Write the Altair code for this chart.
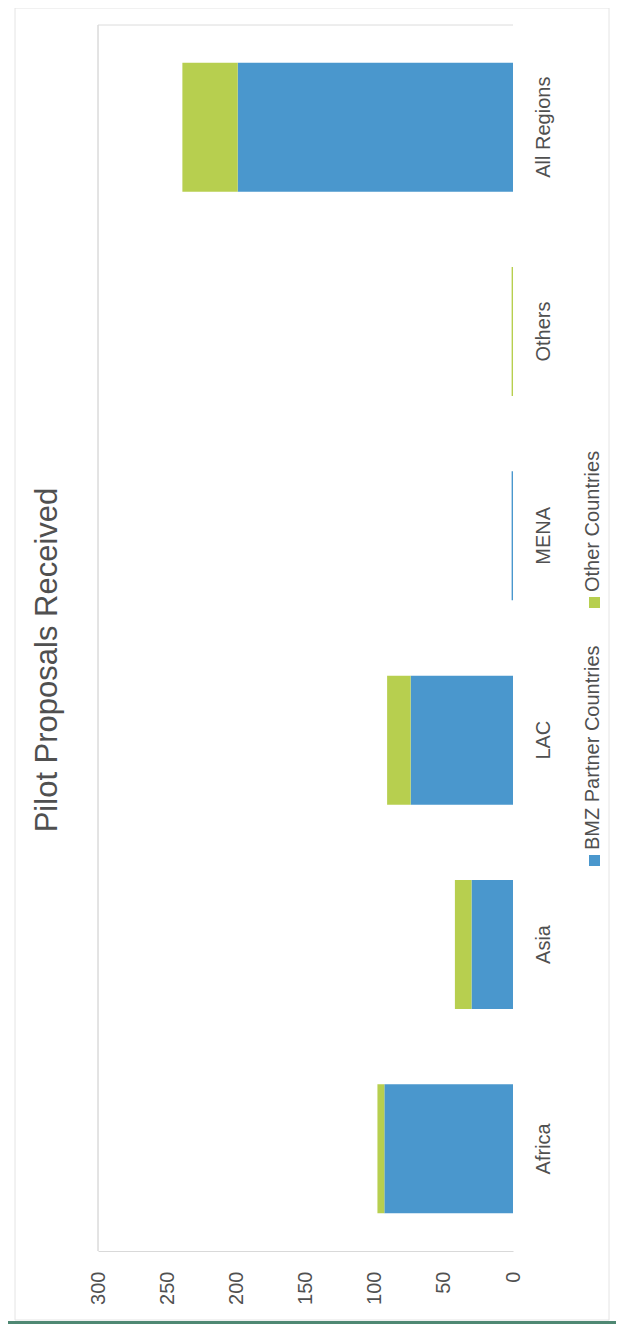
import altair as alt
import pandas as pd

# ---- data ----
regions = ["All Regions", "Others", "MENA", "LAC", "Asia", "Africa"]
bmz_values = [199, 0, 1, 74, 30, 93]
other_values = [40, 1, 0, 17, 12, 5]
series = ["BMZ Partner Countries", "Other Countries"]
series_colors = ["#4a97cd", "#b7cf4f"]
tick_values = [0, 50, 100, 150, 200, 250, 300]
chart_title = "Pilot Proposals Received"

rows = []
for r, b, o in zip(regions, bmz_values, other_values):
    rows.append({"region": r, "series": series[0], "value": b, "rank": 0})
    rows.append({"region": r, "series": series[1], "value": o, "rank": 1})
df = pd.DataFrame(rows)

W, H = 415, 1226
FONT = "Liberation Sans"
TXT = "#505050"

x_scale = alt.Scale(domain=[0, 300], reverse=True, nice=False, zero=True)

bars = alt.Chart(df).mark_bar().encode(
    y=alt.Y(
        "region:N",
        sort=regions,
        scale=alt.Scale(paddingInner=0.369, paddingOuter=0.1845),
        axis=alt.Axis(
            orient="right", title=None, labelAngle=270, labelAlign="center",
            labelBaseline="alphabetic", labelPadding=36, ticks=False, tickSize=0,
            domain=False, grid=False, labelFont=FONT, labelFontSize=20, labelColor=TXT,
        ),
    ),
    x=alt.X(
        "value:Q",
        stack="zero",
        scale=x_scale,
        axis=alt.Axis(
            values=tick_values, orient="bottom", title=None, labelAngle=270,
            labelAlign="right", labelBaseline="middle", labelPadding=20,
            ticks=False, tickSize=0, domain=True, domainColor="#d9d9d9",
            grid=False, labelFont=FONT, labelFontSize=20, labelColor=TXT,
        ),
    ),
    color=alt.Color("series:N", scale=alt.Scale(domain=series, range=series_colors), legend=None),
    order=alt.Order("rank:Q"),
)

one = pd.DataFrame({"k": [0]})

# chart-area frame and scanned page edge
frame = alt.Chart(one).mark_rect(fillOpacity=0, stroke="#e4e4e4", strokeWidth=1).encode(
    x=alt.value(-83), x2=alt.value(511), y=alt.value(-17), y2=alt.value(1295)
)
page_edge = alt.Chart(one).mark_rect(color="#4f8873").encode(
    x=alt.value(-90), x2=alt.value(518), y=alt.value(1296), y2=alt.value(1299)
)
# gridline at 300 (left) and plot top line
grid_left = alt.Chart(one).mark_rule(color="#c8c8c8", strokeWidth=1).encode(
    x=alt.value(0), y=alt.value(0), y2=alt.value(H)
)
top_line = alt.Chart(one).mark_rule(color="#dcdcdc", strokeWidth=1).encode(
    x=alt.value(0), x2=alt.value(W), y=alt.value(0)
)

title_mark = alt.Chart(pd.DataFrame({"t": [chart_title]})).mark_text(
    angle=270, align="center", baseline="alphabetic", fontSize=31, font=FONT, color=TXT
).encode(text="t:N", x=alt.value(-41), y=alt.value(635))

# legend (rotated, built by hand)
leg_sq_bmz = alt.Chart(one).mark_rect(color=series_colors[0]).encode(
    x=alt.value(491), x2=alt.value(502), y=alt.value(830), y2=alt.value(841)
)
leg_sq_oth = alt.Chart(one).mark_rect(color=series_colors[1]).encode(
    x=alt.value(491), x2=alt.value(502), y=alt.value(572), y2=alt.value(583)
)
leg_txt_bmz = alt.Chart(pd.DataFrame({"t": [series[0]]})).mark_text(
    angle=270, align="left", baseline="alphabetic", fontSize=20, font=FONT, color=TXT
).encode(text="t:N", x=alt.value(501), y=alt.value(825))
leg_txt_oth = alt.Chart(pd.DataFrame({"t": [series[1]]})).mark_text(
    angle=270, align="left", baseline="alphabetic", fontSize=20, font=FONT, color=TXT
).encode(text="t:N", x=alt.value(501), y=alt.value(567))

chart = alt.layer(
    frame, page_edge, grid_left, top_line, bars, title_mark,
    leg_sq_bmz, leg_sq_oth, leg_txt_bmz, leg_txt_oth,
).properties(
    width=W,
    height=H,
    autosize=alt.AutoSizeParams(type="none"),
    padding={"left": 90, "top": 17, "right": 103, "bottom": 73},
    background="white",
).configure_view(stroke=None)

chart.save("out.html", embed_options={"renderer": "svg", "actions": False})
